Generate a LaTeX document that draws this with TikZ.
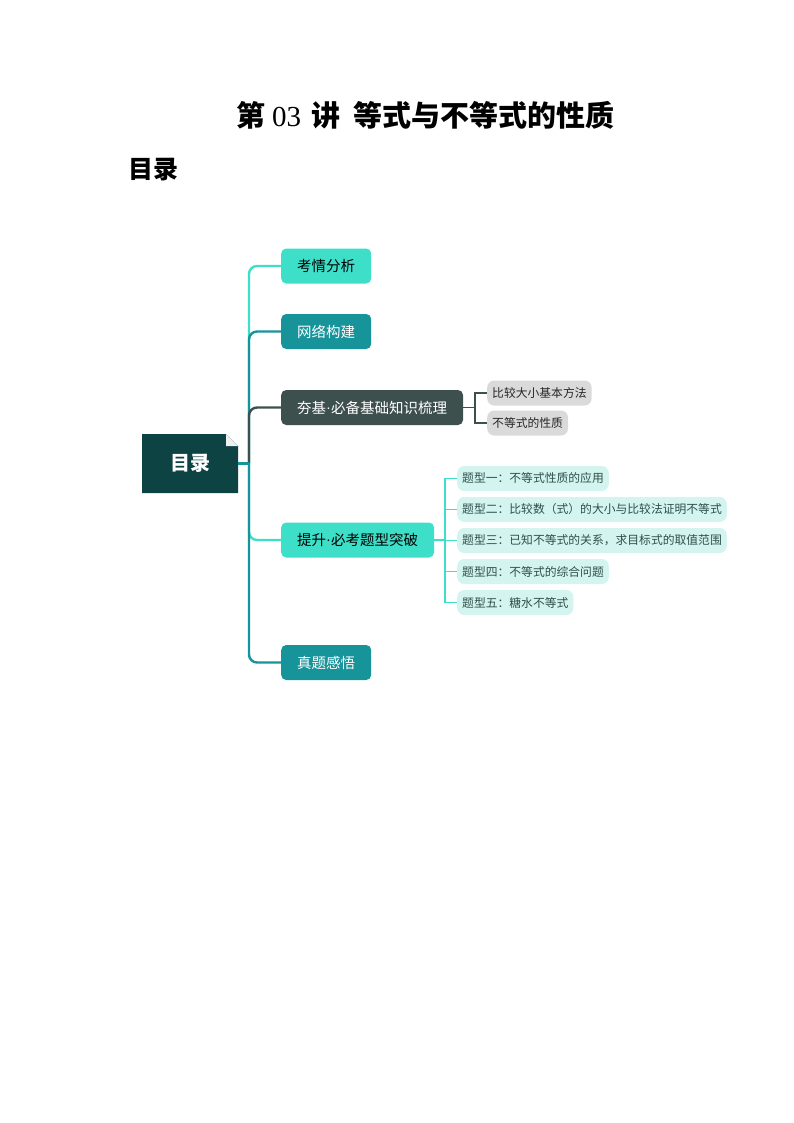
\documentclass[tikz,border=0pt]{standalone}
\usepackage{fontspec}
\setmainfont{Noto Sans CJK SC}
\newfontfamily\timesfont{Liberation Serif}
\newcommand{\middot}{{\timesfont ·}}
\usepackage{tikz}
\definecolor{turq}{HTML}{3DDFC9}
\definecolor{tealbr}{HTML}{17939A}
\definecolor{slate}{HTML}{3E504D}
\definecolor{rootc}{HTML}{0E4344}
\definecolor{greybox}{HTML}{DADADA}
\definecolor{paleturq}{HTML}{D4F5EF}
\definecolor{paletext}{HTML}{2E4E4A}
\tikzset{
	topic/.style={rounded corners=5pt, inner xsep=16pt, inner ysep=0pt, minimum width=90pt, minimum height=35pt, anchor=west, font=\fontsize{14.5}{14.5}\selectfont},
	subtopic/.style={rounded corners=7pt, inner xsep=5pt, inner ysep=0pt, minimum height=25pt, anchor=west, font=\fontsize{11.8}{11.8}\selectfont},
	trunk/.style={line width=2.4pt, rounded corners=8pt},
	twig/.style={line width=1.3pt},
}

\begin{document}
\begin{tikzpicture}[x=1pt,y=-1pt]
	%\draw[help lines, thick] (0,0) grid[step=50] (794,1123);
	\useasboundingbox (0,0) rectangle (794,1123);
	\node[inner sep=0pt, font=\bfseries\fontsize{29}{29}\selectfont] (title) at (425.5,115) {第\hspace{7pt}{\timesfont\mdseries 03}\hspace{10pt}讲\hspace{14pt}等式与不等式的性质};
	\node[inner sep=0pt, anchor=west, font=\bfseries\fontsize{25}{25}\selectfont] (toc) at (128,170) {目录};
	% root with folded corner
	\fill[rootc] (142,434) -- (226,434) -- (238,446) -- (238,493) -- (142,493) -- cycle;
	\fill[gray!12] (226,434) -- (238,446) -- (226,446) -- cycle;
	\node[minimum width=96pt, minimum height=59pt, inner sep=0pt, text=white, font=\bfseries\fontsize{20}{20}\selectfont] (root) at (190,463.5) {目录};
	\coordinate (hub) at (249,463.5);
	% main topics
	\node[topic, fill=turq, text=black] (kq) at (281,266) {考情分析};
	\node[topic, fill=tealbr, text=white] (wl) at (281,331.5) {网络构建};
	\node[topic, fill=slate, text=white] (hj) at (281,407.5) {夯基\middot 必备基础知识梳理};
	\node[topic, fill=turq, text=black] (ts) at (281,540) {提升\middot 必考题型突破};
	\node[topic, fill=tealbr, text=white] (zt) at (281,662.5) {真题感悟};
	\draw[trunk, turq] (hub) |- (kq.west);
	\draw[trunk, tealbr] (hub) |- (wl.west);
	\draw[trunk, slate] (hub) |- (hj.west);
	\draw[trunk, turq] (hub) |- (ts.west);
	\draw[trunk, tealbr] (hub) |- (zt.west);
	\draw[trunk, tealbr] (root.east) -- (hub);
	% basics
	\node[subtopic, fill=greybox, text=black!85] (b1) at (487,393) {比较大小基本方法};
	\node[subtopic, fill=greybox, text=black!85] (b2) at (487,423) {不等式的性质};
	\coordinate (hjfork) at (475,407.5);
	\draw[twig, slate] (hj.east) -- (hjfork);
	\draw[twig, slate] (hjfork) |- (b1.west);
	\draw[twig, slate] (hjfork) |- (b2.west);
	% question types
	\node[subtopic, fill=paleturq, text=paletext] (t1) at (457,478.5) {题型一：不等式性质的应用};
	\node[subtopic, fill=paleturq, text=paletext] (t2) at (457,509.5) {题型二：比较数（式）的大小与比较法证明不等式};
	\node[subtopic, fill=paleturq, text=paletext] (t3) at (457,540.5) {题型三：已知不等式的关系，求目标式的取值范围};
	\node[subtopic, fill=paleturq, text=paletext] (t4) at (457,571.5) {题型四：不等式的综合问题};
	\node[subtopic, fill=paleturq, text=paletext] (t5) at (457,602.5) {题型五：糖水不等式};
	\coordinate (tsfork) at (445,540);
	\draw[twig, turq] (ts.east) -- (tsfork);
	\foreach \t in {t1,t2,t3,t4,t5}
		\draw[twig, turq] (tsfork) |- (\t.west);
\end{tikzpicture}
\end{document}
